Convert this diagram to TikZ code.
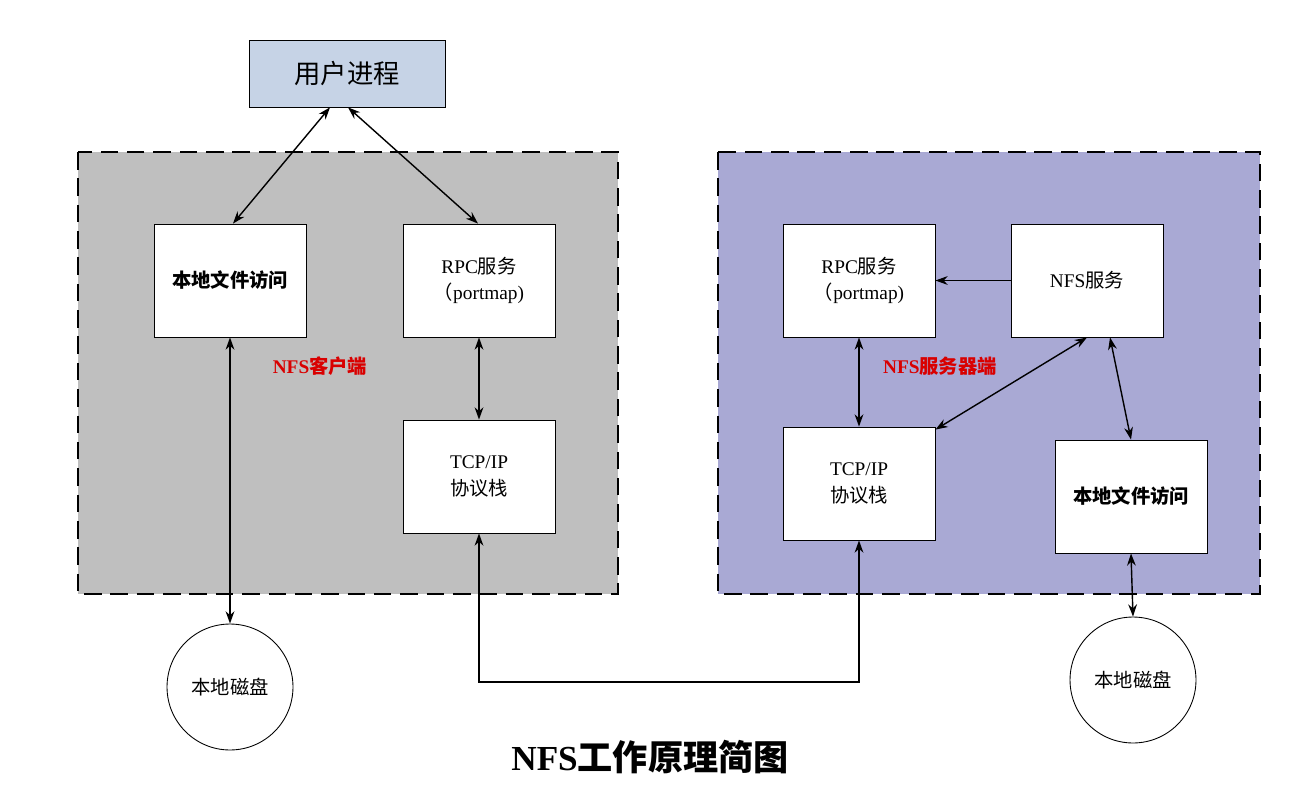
\documentclass[tikz,border=0pt]{standalone}
\usepackage{fontspec}
\setmainfont{Liberation Serif}
\newfontfamily\cjk{Noto Sans CJK SC}
\usetikzlibrary{arrows.meta,calc}
\begin{document}
\begin{tikzpicture}[x=0.02cm,y=-0.02cm,
  box/.style={draw,fill=white,minimum width=3.04cm,minimum height=2.26cm,align=center,font=\fontsize{11}{15}\selectfont,line width=0.5pt},
  region/.style={draw,line width=1.6pt,dash pattern=on 10pt off 5pt},
  arr/.style={line width=0.8pt,{Stealth[length=7pt,width=5pt]}-{Stealth[length=7pt,width=5pt]}},
  disk/.style={draw,circle,minimum size=2.52cm,fill=white,font=\fontsize{11}{15}\selectfont\cjk,line width=0.5pt},
  lab/.style={text=red!85!black,font=\bfseries\fontsize{11}{15}\selectfont}]
\useasboundingbox (0,0) rectangle (1295,791);
\fill[white] (0,0) rectangle (1295,791);
\draw[region,fill=black!25] (78,152) rectangle (618,594);
\draw[region,fill={rgb,255:red,169;green,169;blue,212}] (718,152) rectangle (1260,594);
\node[draw,fill={rgb,255:red,198;green,211;blue,230},minimum width=3.92cm,minimum height=1.34cm,font=\fontsize{15}{18}\selectfont\cjk] (user) at (347,73.5) {用户进程};
\node[box,font=\bfseries\fontsize{11}{15}\selectfont\cjk] (llocal) at (230,280.5) {本地文件访问};
\node[box] (lrpc) at (479,280.5) {RPC{\cjk 服务}\\{\cjk （}portmap)};
\node[box] (ltcp) at (479,476.5) {TCP/IP\\{\cjk 协议栈}};
\node[lab] (lclient) at (320,366) {NFS{\cjk 客户端}};
\node[disk] (ldisk) at (230,687) {本地磁盘};
\node[box] (rrpc) at (859,280.5) {RPC{\cjk 服务}\\{\cjk （}portmap)};
\node[box] (rnfs) at (1087,280.5) {NFS{\cjk 服务}};
\node[box] (rtcp) at (859,483.5) {TCP/IP\\{\cjk 协议栈}};
\node[box,font=\bfseries\fontsize{11}{15}\selectfont\cjk] (rlocal) at (1131,496.5) {本地文件访问};
\node[lab] (rserver) at (940,366) {NFS{\cjk 服务器端}};
\node[disk] (rdisk) at (1133,680) {本地磁盘};
\node[font=\bfseries\fontsize{20}{24}\selectfont] (title) at (650,757) {NFS{\cjk 工作原理简图}};
\draw[arr] ($(user.south)+(-17,0)$) -- ($(llocal.north)+(3,0)$);
\draw[arr] ($(user.south)+(1,0)$) -- ($(lrpc.north)+(-1,0)$);
\draw[arr] (llocal.south) -- (ldisk.north);
\draw[arr] (lrpc.south) -- (ltcp.north);
\coordinate (c1) at (ltcp.south |- 0,682);
\coordinate (c2) at (rtcp.south |- 0,682);
\draw[arr] (ltcp.south) -- (c1) -- (c2) -- (rtcp.south);
\draw[line width=0.8pt,-{Stealth[length=7pt,width=5pt]}] (rnfs.west) -- (rrpc.east);
\draw[arr] (rrpc.south) -- (rtcp.north);
\draw[arr] (rnfs.south) -- ($(rtcp.north east)+(0,3)$);
\draw[arr] ($(rnfs.south)+(23,0)$) -- (rlocal.north);
\draw[arr] (rlocal.south) -- (rdisk.north);
\end{tikzpicture}
\end{document}
